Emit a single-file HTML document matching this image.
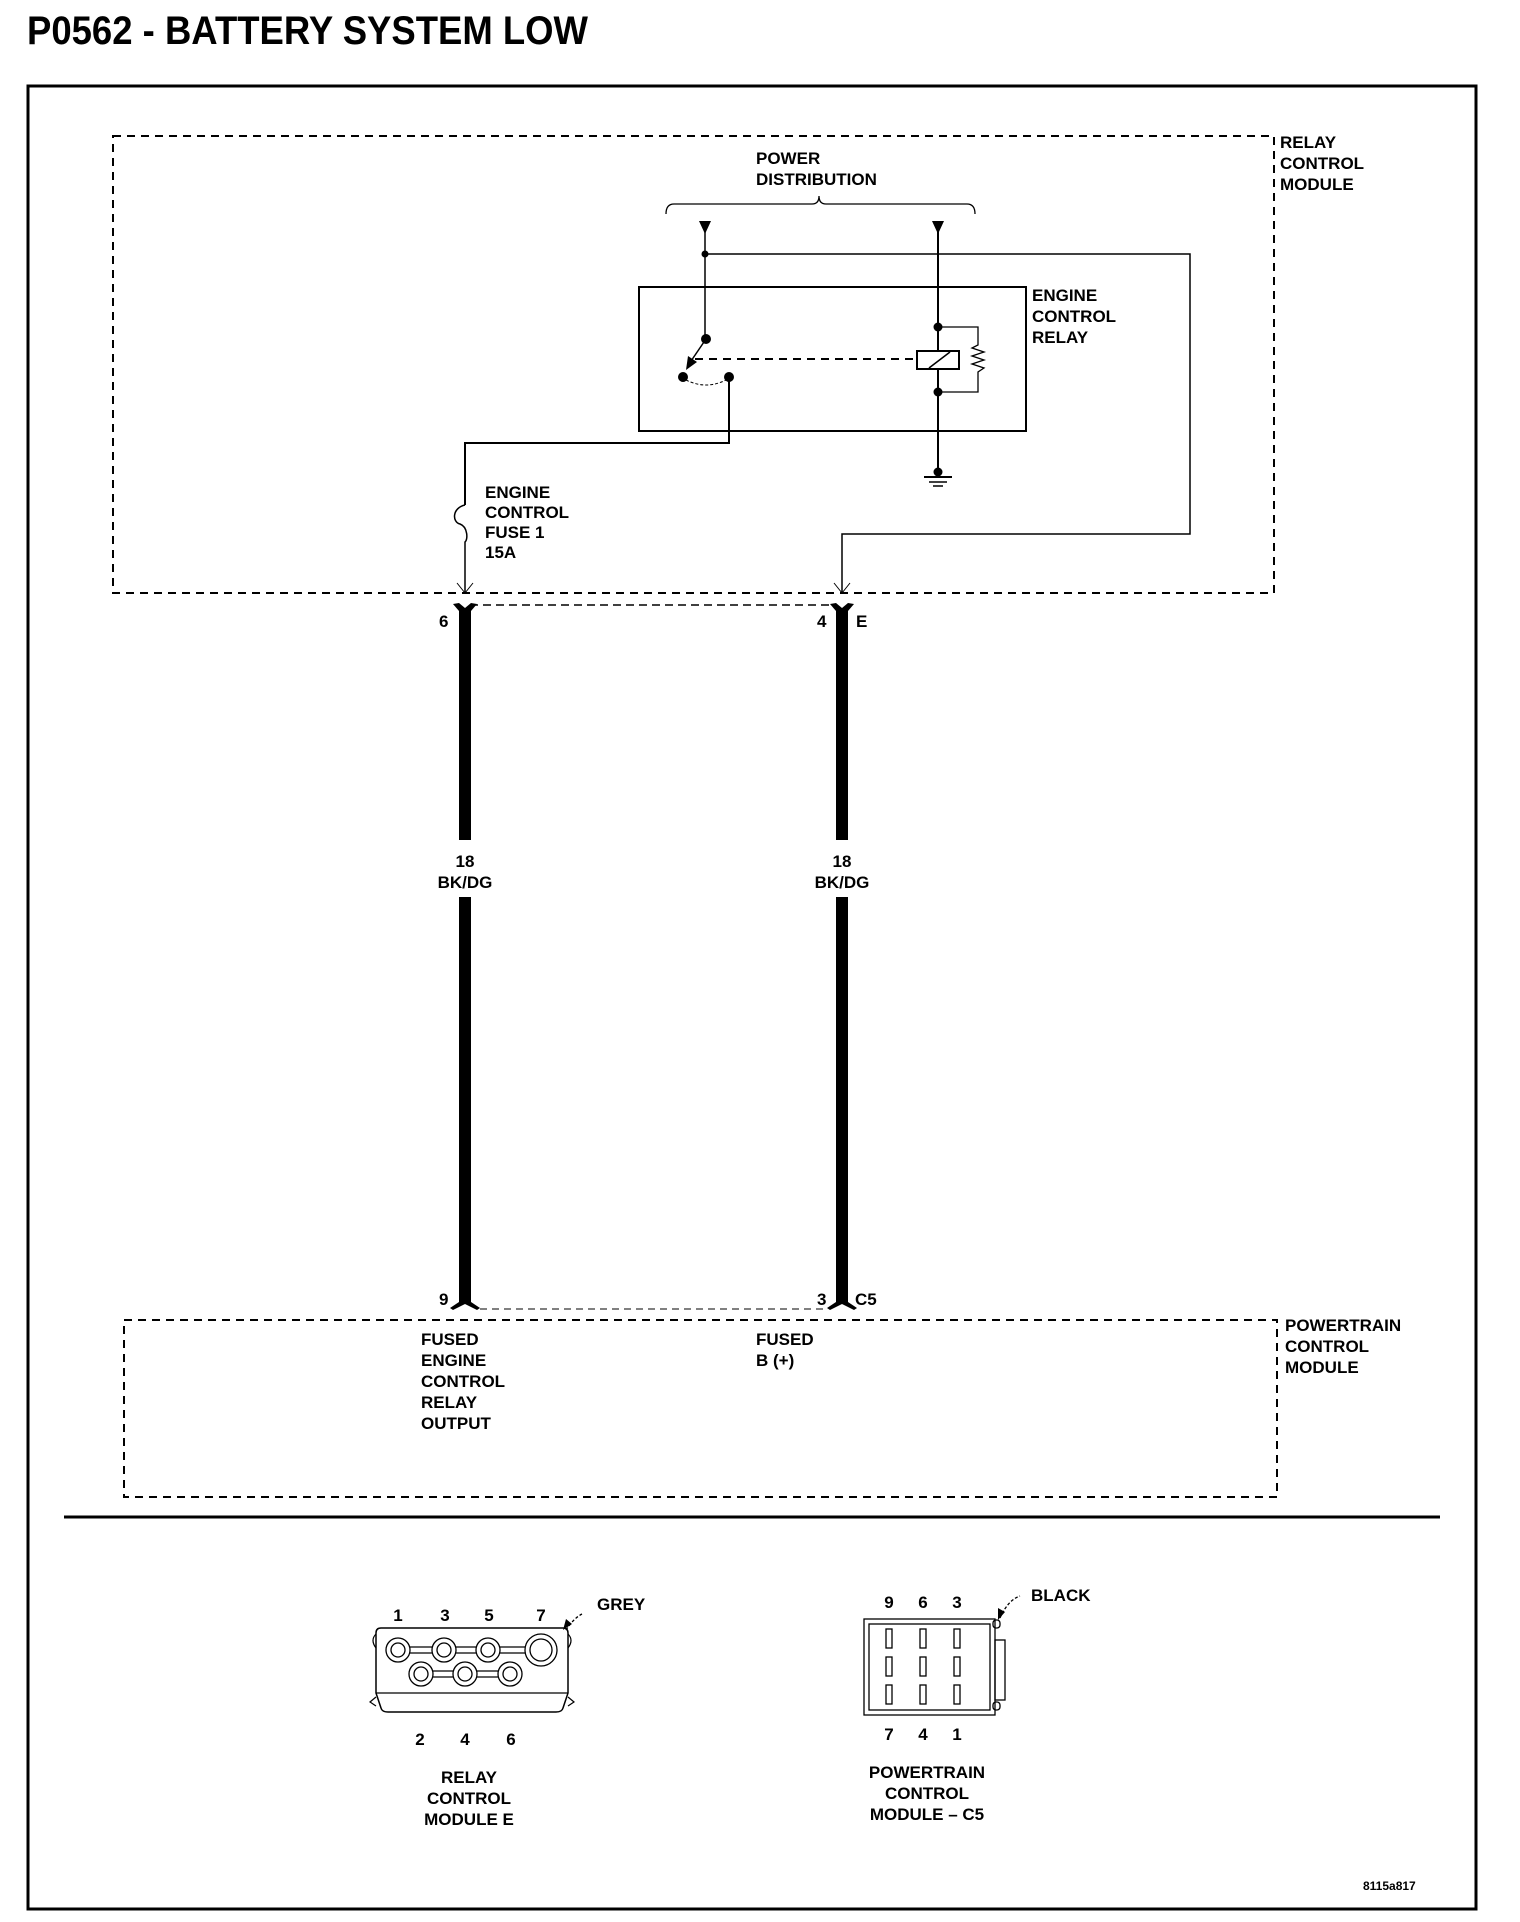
<!DOCTYPE html>
<html><head><meta charset="utf-8"><style>
html,body{margin:0;padding:0;background:#fff;}
svg{display:block;}
text{font-family:"Liberation Sans",Arial,sans-serif;font-weight:bold;font-size:17px;fill:#000;}
</style></head><body>
<svg width="1520" height="1922" viewBox="0 0 1520 1922" xmlns="http://www.w3.org/2000/svg">
<text x="27" y="44" style="font-size:40px" textLength="561" lengthAdjust="spacingAndGlyphs">P0562 - BATTERY SYSTEM LOW</text>
<rect x="28" y="86" width="1448" height="1823" fill="none" stroke="#000" stroke-width="3"/>

<!-- RCM dashed box -->
<rect x="113" y="136" width="1161" height="457" fill="none" stroke="#000" stroke-width="2" stroke-dasharray="8,6"/>
<text x="1280" y="148">RELAY</text>
<text x="1280" y="169">CONTROL</text>
<text x="1280" y="190">MODULE</text>

<text x="756" y="164">POWER</text>
<text x="756" y="185">DISTRIBUTION</text>
<path d="M666,214 Q666,204 674,204 L812,204 Q819,204 819,196 Q819,204 826,204 L967,204 Q975,204 975,214" fill="none" stroke="#000" stroke-width="1.3"/>
<polygon points="699,221 711,221 705,234" fill="#000"/>
<polygon points="932,221 944,221 938,234" fill="#000"/>

<!-- left feed -->
<line x1="705" y1="230" x2="705" y2="339" stroke="#000" stroke-width="1.5"/>
<circle cx="705" cy="254" r="3.5"/>
<polyline points="705,254 1190,254 1190,534 842,534 842,593" fill="none" stroke="#000" stroke-width="1.5"/>
<polyline points="834,583 842,593 850,583" fill="none" stroke="#000" stroke-width="1"/>

<!-- relay box -->
<rect x="639" y="287" width="387" height="144" fill="none" stroke="#000" stroke-width="2"/>
<text x="1032" y="301">ENGINE</text>
<text x="1032" y="322">CONTROL</text>
<text x="1032" y="343">RELAY</text>

<!-- switch -->
<circle cx="706" cy="339" r="5"/>
<line x1="706" y1="339" x2="689" y2="364" stroke="#000" stroke-width="1.5"/>
<polygon points="686,370 688,356 697,362" fill="#000"/>
<circle cx="683" cy="377" r="5"/>
<circle cx="729" cy="377" r="5"/>
<path d="M686,380 Q706,390 726,380" fill="none" stroke="#000" stroke-width="1" stroke-dasharray="3,2"/>
<line x1="695" y1="359" x2="917" y2="359" stroke="#000" stroke-width="2" stroke-dasharray="8,6"/>
<polyline points="729,377 729,443 465,443 465,505" fill="none" stroke="#000" stroke-width="2"/>
<path d="M465,505 C452,508 452,522 460,524 C468,527 468,540 465,542 L465,593" fill="none" stroke="#000" stroke-width="1.5"/>
<polyline points="457,583 465,593 473,583" fill="none" stroke="#000" stroke-width="1"/>
<text x="485" y="498">ENGINE</text>
<text x="485" y="518">CONTROL</text>
<text x="485" y="538">FUSE 1</text>
<text x="485" y="558">15A</text>

<!-- coil side -->
<line x1="938" y1="230" x2="938" y2="472" stroke="#000" stroke-width="2"/>
<circle cx="938" cy="327" r="4.5"/>
<circle cx="938" cy="392" r="4.5"/>
<rect x="917" y="351" width="42" height="18" fill="#fff" stroke="#000" stroke-width="2"/>
<line x1="929" y1="368" x2="950" y2="352" stroke="#000" stroke-width="1.5"/>
<polyline points="938,327 978,327 978,345 972,348 984,352 972,356 984,360 972,364 984,368 978,372 978,392 938,392" fill="none" stroke="#000" stroke-width="1.3"/>
<circle cx="938" cy="472" r="4.5"/>
<line x1="924" y1="477" x2="952" y2="477" stroke="#000" stroke-width="2"/>
<line x1="929" y1="482" x2="947" y2="482" stroke="#000" stroke-width="1.5"/>
<line x1="933" y1="486" x2="943" y2="486" stroke="#000" stroke-width="1.5"/>

<!-- top connector forks -->
<line x1="470" y1="605" x2="836" y2="605" stroke="#000" stroke-width="1.5" stroke-dasharray="8,5"/>
<polygon points="453,604 459,603 465,608 471,603 477,604 471,611 471,840 459,840 459,611" fill="#000"/>
<polygon points="830,604 836,603 842,608 848,603 854,604 848,611 848,840 836,840 836,611" fill="#000"/>
<text x="439" y="627">6</text>
<text x="817" y="627">4</text>
<text x="856" y="627">E</text>
<text x="465" y="867" text-anchor="middle">18</text>
<text x="465" y="888" text-anchor="middle">BK/DG</text>
<text x="842" y="867" text-anchor="middle">18</text>
<text x="842" y="888" text-anchor="middle">BK/DG</text>
<rect x="459" y="897" width="12" height="402" fill="#000"/>
<rect x="836" y="897" width="12" height="402" fill="#000"/>
<polygon points="459,1298 471,1298 471,1302 480,1308 477,1310 465,1304 453,1310 450,1308 459,1302" fill="#000"/>
<polygon points="836,1298 848,1298 848,1302 857,1308 854,1310 842,1304 830,1310 827,1308 836,1302" fill="#000"/>
<line x1="480" y1="1309" x2="828" y2="1309" stroke="#000" stroke-width="1" stroke-dasharray="7,5"/>
<text x="439" y="1305">9</text>
<text x="817" y="1305">3</text>
<text x="855" y="1305">C5</text>

<!-- PCM box -->
<rect x="124" y="1320" width="1153" height="177" fill="none" stroke="#000" stroke-width="2" stroke-dasharray="8,6"/>
<text x="1285" y="1331">POWERTRAIN</text>
<text x="1285" y="1352">CONTROL</text>
<text x="1285" y="1373">MODULE</text>
<text x="421" y="1345">FUSED</text>
<text x="421" y="1366">ENGINE</text>
<text x="421" y="1387">CONTROL</text>
<text x="421" y="1408">RELAY</text>
<text x="421" y="1429">OUTPUT</text>
<text x="756" y="1345">FUSED</text>
<text x="756" y="1366">B (+)</text>

<line x1="64" y1="1517" x2="1440" y2="1517" stroke="#000" stroke-width="3"/>

<!-- relay connector -->
<path d="M376,1633 Q376,1628 381,1628 L563,1628 Q568,1628 568,1633 L568,1693 L563,1708 Q562,1712 556,1712 L388,1712 Q382,1712 381,1708 L376,1693 Z" fill="none" stroke="#000" stroke-width="1.5"/>
<line x1="376" y1="1693" x2="568" y2="1693" stroke="#000" stroke-width="1.2"/>
<path d="M376,1634 Q370,1640 376,1648" fill="none" stroke="#000" stroke-width="1.2"/>
<path d="M568,1634 Q574,1640 568,1648" fill="none" stroke="#000" stroke-width="1.2"/>
<path d="M376,1697 L370,1702 L376,1706" fill="none" stroke="#000" stroke-width="1.2"/>
<path d="M568,1697 L574,1702 L568,1706" fill="none" stroke="#000" stroke-width="1.2"/>
<g fill="none" stroke="#000" stroke-width="1.3">
<line x1="406" y1="1647" x2="530" y2="1647"/><line x1="406" y1="1653" x2="530" y2="1653"/>
<line x1="425" y1="1671" x2="505" y2="1671"/><line x1="425" y1="1677" x2="505" y2="1677"/>
<circle cx="398" cy="1650" r="12" fill="#fff"/><circle cx="398" cy="1650" r="7"/>
<circle cx="444" cy="1650" r="12" fill="#fff"/><circle cx="444" cy="1650" r="7"/>
<circle cx="488" cy="1650" r="12" fill="#fff"/><circle cx="488" cy="1650" r="7"/>
<circle cx="541" cy="1650" r="16" fill="#fff"/><circle cx="541" cy="1650" r="11"/>
<circle cx="421" cy="1674" r="12" fill="#fff"/><circle cx="421" cy="1674" r="7"/>
<circle cx="465" cy="1674" r="12" fill="#fff"/><circle cx="465" cy="1674" r="7"/>
<circle cx="510" cy="1674" r="12" fill="#fff"/><circle cx="510" cy="1674" r="7"/>
<path d="M566,1630 Q574,1618 582,1614" stroke-dasharray="3,2"/>
</g>
<polygon points="563,1630 566,1619 572,1624" fill="#000"/>
<text x="398" y="1621" text-anchor="middle">1</text>
<text x="445" y="1621" text-anchor="middle">3</text>
<text x="489" y="1621" text-anchor="middle">5</text>
<text x="541" y="1621" text-anchor="middle">7</text>
<text x="597" y="1610">GREY</text>
<text x="420" y="1745" text-anchor="middle">2</text>
<text x="465" y="1745" text-anchor="middle">4</text>
<text x="511" y="1745" text-anchor="middle">6</text>
<text x="469" y="1783" text-anchor="middle">RELAY</text>
<text x="469" y="1804" text-anchor="middle">CONTROL</text>
<text x="469" y="1825" text-anchor="middle">MODULE E</text>

<!-- PCM connector -->
<g fill="none" stroke="#000" stroke-width="1.3">
<rect x="864" y="1619" width="131" height="96"/>
<rect x="869" y="1624" width="121" height="86"/>
<rect x="995" y="1640" width="10" height="60"/>
<rect x="993" y="1620" width="7" height="8" rx="3"/>
<rect x="993" y="1702" width="7" height="8" rx="3"/>
<rect x="886" y="1629" width="6" height="19"/><rect x="920" y="1629" width="6" height="19"/><rect x="954" y="1629" width="6" height="19"/>
<rect x="886" y="1657" width="6" height="19"/><rect x="920" y="1657" width="6" height="19"/><rect x="954" y="1657" width="6" height="19"/>
<rect x="886" y="1685" width="6" height="19"/><rect x="920" y="1685" width="6" height="19"/><rect x="954" y="1685" width="6" height="19"/>
<path d="M1000,1618 Q1008,1600 1020,1596" stroke-dasharray="3,2"/>
</g>
<polygon points="998,1620 998,1608 1005,1612" fill="#000"/>
<text x="889" y="1608" text-anchor="middle">9</text>
<text x="923" y="1608" text-anchor="middle">6</text>
<text x="957" y="1608" text-anchor="middle">3</text>
<text x="1031" y="1601">BLACK</text>
<text x="889" y="1740" text-anchor="middle">7</text>
<text x="923" y="1740" text-anchor="middle">4</text>
<text x="957" y="1740" text-anchor="middle">1</text>
<text x="927" y="1778" text-anchor="middle">POWERTRAIN</text>
<text x="927" y="1799" text-anchor="middle">CONTROL</text>
<text x="927" y="1820" text-anchor="middle">MODULE – C5</text>

<text x="1363" y="1890" style="font-size:12px">8115a817</text>
</svg>
</body></html>
